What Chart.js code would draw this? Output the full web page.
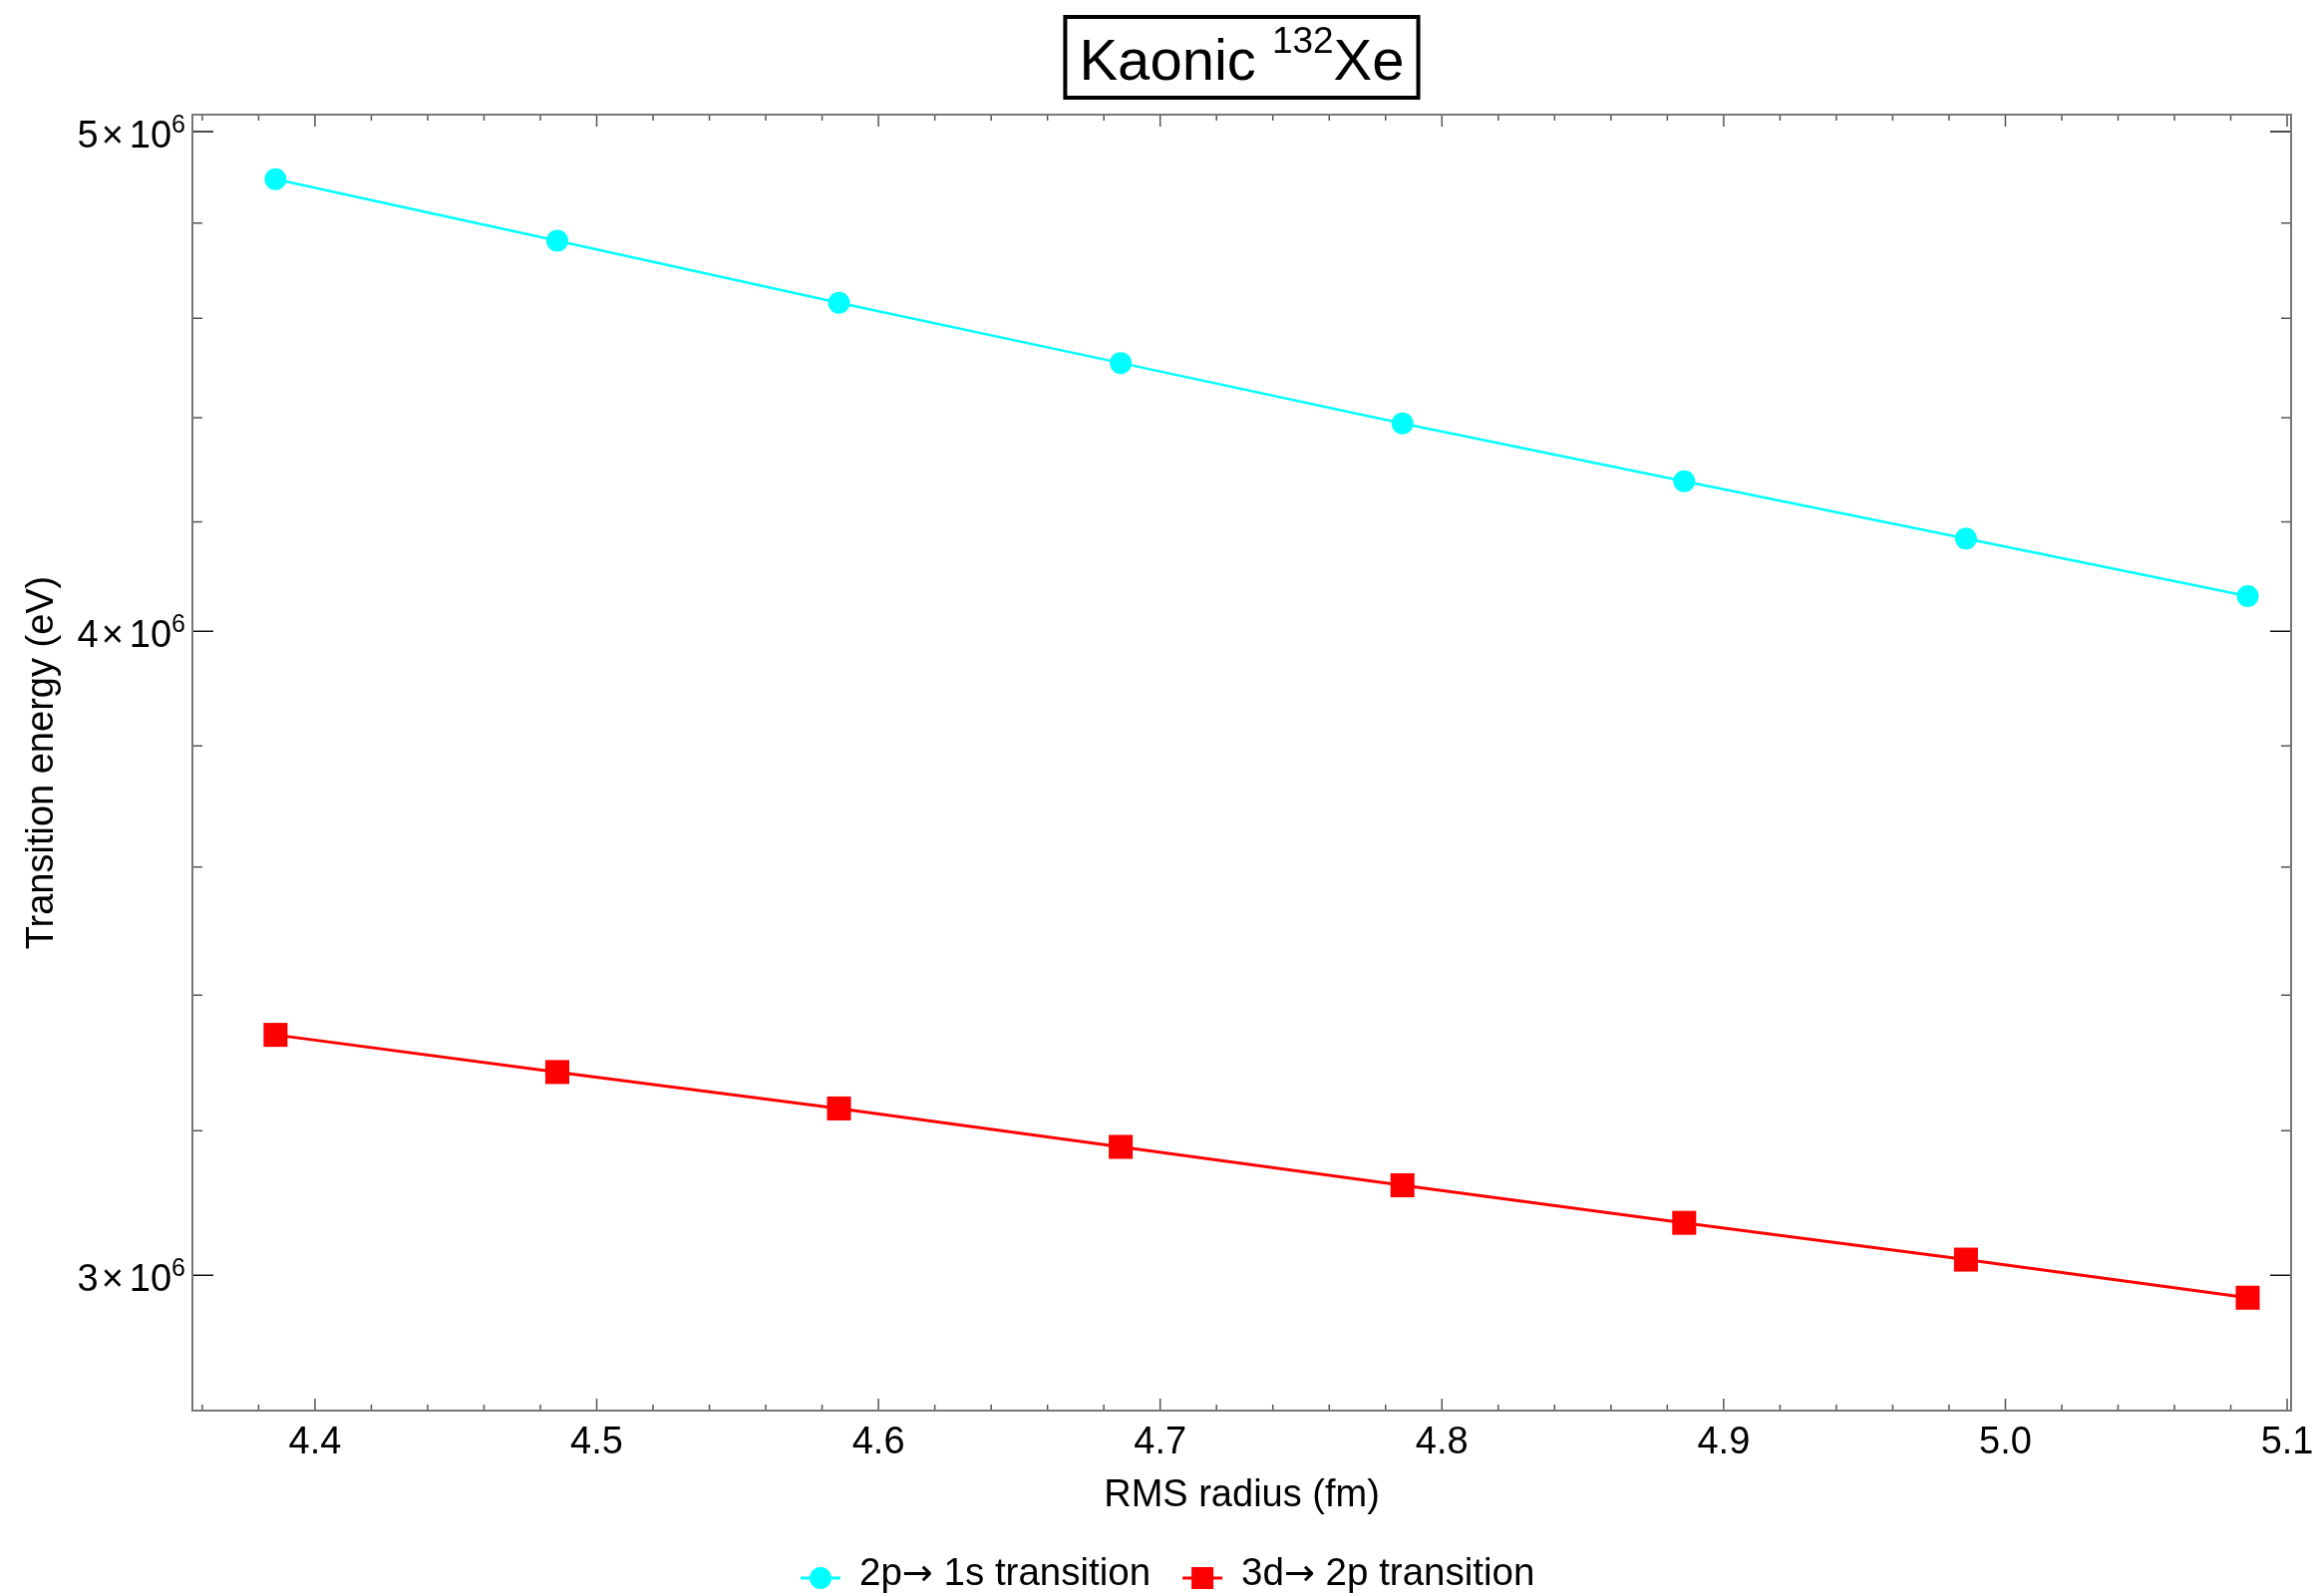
<!DOCTYPE html>
<html>
<head>
<meta charset="utf-8">
<script src="https://cdn.jsdelivr.net/npm/chart.js@4.4.1/dist/chart.umd.min.js"></script>
<style>
  html, body { margin: 0; padding: 0; background: #fff; }
  canvas { display: block; }
</style>
</head>
<body>
<canvas id="chart" width="2322" height="1601"></canvas>
<script>
// RMS radius (fm)
const radii = [4.386, 4.486, 4.586, 4.686, 4.786, 4.886, 4.986, 5.086];
// transition energies (eV)
const energy2p1s = [4.895e6, 4.762e6, 4.632e6, 4.509e6, 4.389e6, 4.277e6, 4.169e6, 4.063e6];
const energy3d2p = [3.340e6, 3.285e6, 3.232e6, 3.177e6, 3.123e6, 3.071e6, 3.021e6, 2.970e6];

// legend names, split around the arrow so it can use a font that has a full arrow
const seriesFrom = ['2p', '3d'];
const seriesTo = [' 1s transition', ' 2p transition'];

const xMajorTicks = [4.4, 4.5, 4.6, 4.7, 4.8, 4.9, 5.0, 5.1];
const xMinorTicks = [];
for (let i = 218; i <= 255; i++) xMinorTicks.push(i / 50);   // every 0.02
const yMajorTicks = [3e6, 4e6, 5e6];
const yMinorTicks = [3.2e6, 3.4e6, 3.6e6, 3.8e6, 4.2e6, 4.4e6, 4.6e6, 4.8e6];

const FONT = '"Liberation Sans", Arial, sans-serif';
const ARROW_FONT = '"DejaVu Sans", sans-serif';

const toPoints = (ys) => ys.map((y, i) => ({ x: radii[i], y: y }));

const framePlugin = {
  id: 'frame',
  beforeDatasetsDraw(chart) {
    const { ctx, chartArea: a, scales: { x, y } } = chart;
    ctx.save();
    ctx.strokeStyle = '#555';
    ctx.lineWidth = 1.5;
    ctx.beginPath();
    xMajorTicks.forEach(v => {
      const px = x.getPixelForValue(v);
      ctx.moveTo(px, a.bottom); ctx.lineTo(px, a.bottom - 12);
      ctx.moveTo(px, a.top); ctx.lineTo(px, a.top + 12);
    });
    xMinorTicks.forEach(v => {
      if (xMajorTicks.some(m => Math.abs(m - v) < 1e-6)) return;
      const px = x.getPixelForValue(v);
      ctx.moveTo(px, a.bottom); ctx.lineTo(px, a.bottom - 6);
      ctx.moveTo(px, a.top); ctx.lineTo(px, a.top + 6);
    });
    ctx.stroke();
    ctx.strokeStyle = '#111';
    ctx.beginPath();
    yMajorTicks.forEach(v => {
      const py = y.getPixelForValue(v);
      ctx.moveTo(a.left, py); ctx.lineTo(a.left + 21, py);
      ctx.moveTo(a.right, py); ctx.lineTo(a.right - 21, py);
    });
    ctx.stroke();
    ctx.strokeStyle = '#555';
    ctx.beginPath();
    yMinorTicks.forEach(v => {
      const py = y.getPixelForValue(v);
      ctx.moveTo(a.left, py); ctx.lineTo(a.left + 10, py);
      ctx.moveTo(a.right, py); ctx.lineTo(a.right - 10, py);
    });
    ctx.stroke();
    ctx.strokeStyle = '#777';
    ctx.lineWidth = 2;
    ctx.strokeRect(a.left, a.top, a.right - a.left, a.bottom - a.top);
    ctx.restore();
  },
  afterDraw(chart) {
    const { ctx, chartArea: a, scales: { x, y } } = chart;
    ctx.save();
    ctx.fillStyle = '#000';

    // x tick labels
    ctx.font = '38px ' + FONT;
    ctx.textAlign = 'center';
    ctx.textBaseline = 'alphabetic';
    xMajorTicks.forEach(v => {
      ctx.fillText(v.toFixed(1), x.getPixelForValue(v), a.bottom + 43);
    });

    // y tick labels  "m × 10^6"
    ctx.textAlign = 'left';
    yMajorTicks.forEach(v => {
      const py = y.getPixelForValue(v);
      const m = String(Math.round(v / 1e6));
      ctx.font = '25px ' + FONT;
      const supW = ctx.measureText('6').width;
      ctx.font = '38px ' + FONT;
      const tenW = ctx.measureText('10').width;
      const timesW = ctx.measureText('\u00d7').width;
      const mW = ctx.measureText(m).width;
      let right = a.left - 7;
      ctx.font = '25px ' + FONT;
      ctx.fillText('6', right - supW, py + 1);
      right -= supW;
      ctx.font = '38px ' + FONT;
      ctx.fillText('10', right - tenW, py + 16);
      right -= tenW + 6;
      ctx.fillText('\u00d7', right - timesW, py + 16);
      right -= timesW + 3;
      ctx.fillText(m, right - mW, py + 16);
    });

    // axis titles
    ctx.font = '38px ' + FONT;
    ctx.textAlign = 'center';
    ctx.fillText('RMS radius (fm)', (a.left + a.right) / 2, a.bottom + 96);
    ctx.save();
    ctx.translate(53, (a.top + a.bottom) / 2);
    ctx.rotate(-Math.PI / 2);
    ctx.fillText('Transition energy (eV)', 0, 0);
    ctx.restore();

    // boxed title with superscript
    ctx.textAlign = 'left';
    ctx.font = '58px ' + FONT;
    const w1 = ctx.measureText('Kaonic ').width;
    const w3 = ctx.measureText('Xe').width;
    ctx.font = '37px ' + FONT;
    const w2 = ctx.measureText('132').width;
    const total = w1 + w2 + w3;
    const tx = (a.left + a.right) / 2 - total / 2;
    ctx.font = '58px ' + FONT;
    ctx.fillText('Kaonic ', tx, 80);
    ctx.font = '37px ' + FONT;
    ctx.fillText('132', tx + w1, 53);
    ctx.font = '58px ' + FONT;
    ctx.fillText('Xe', tx + w1 + w2, 80);
    ctx.lineWidth = 4;
    ctx.strokeStyle = '#000';
    ctx.strokeRect(tx - 14, 17, total + 28, 81);

    // legend
    const ds = chart.data.datasets;
    let lx = 803;
    const ly = 1583;
    ds.forEach((d, i) => {
      ctx.strokeStyle = d.borderColor;
      ctx.lineWidth = 3;
      ctx.beginPath();
      ctx.moveTo(lx, ly); ctx.lineTo(lx + 40, ly);
      ctx.stroke();
      ctx.fillStyle = d.pointBackgroundColor;
      if (d.pointStyle === 'rect') {
        ctx.fillRect(lx + 20 - 11, ly - 11, 22, 22);
      } else {
        ctx.beginPath();
        ctx.arc(lx + 20, ly, 11, 0, Math.PI * 2);
        ctx.fill();
      }
      ctx.fillStyle = '#000';
      let tx2 = lx + 59;
      ctx.font = '38.5px ' + FONT;
      ctx.fillText(seriesFrom[i], tx2, ly + 7);
      tx2 += ctx.measureText(seriesFrom[i]).width;
      ctx.font = '37px ' + ARROW_FONT;
      ctx.fillText('\u2192', tx2, ly + 7);
      tx2 += ctx.measureText('\u2192').width;
      ctx.font = '38.5px ' + FONT;
      ctx.fillText(seriesTo[i], tx2, ly + 7);
      tx2 += ctx.measureText(seriesTo[i]).width;
      lx = tx2 + 32;
    });
    ctx.restore();
  }
};

new Chart(document.getElementById('chart'), {
  type: 'line',
  data: {
    datasets: [
      {
        label: seriesFrom[0] + '\u2192' + seriesTo[0],
        data: toPoints(energy2p1s),
        borderColor: '#00ffff',
        pointBackgroundColor: '#00ffff',
        pointBorderColor: '#00ffff',
        borderWidth: 2.5,
        pointStyle: 'circle',
        pointRadius: 11,
        pointBorderWidth: 0,
        tension: 0
      },
      {
        label: seriesFrom[1] + '\u2192' + seriesTo[1],
        data: toPoints(energy3d2p),
        borderColor: '#ff0000',
        pointBackgroundColor: '#ff0000',
        pointBorderColor: '#ff0000',
        borderWidth: 3,
        pointStyle: 'rect',
        pointRadius: 17,
        pointBorderWidth: 0,
        tension: 0
      }
    ]
  },
  options: {
    responsive: false,
    devicePixelRatio: 1,
    animation: false,
    layout: { padding: { left: 193, right: 24, top: 115, bottom: 186 } },
    scales: {
      x: { type: 'linear', min: 4.3565, max: 5.1014, display: false },
      y: { type: 'logarithmic', min: 2.824e6, max: 5.038e6, display: false }
    },
    plugins: {
      legend: { display: false },
      tooltip: { enabled: false },
      title: { display: false }
    }
  },
  plugins: [framePlugin]
});
</script>
</body>
</html>
